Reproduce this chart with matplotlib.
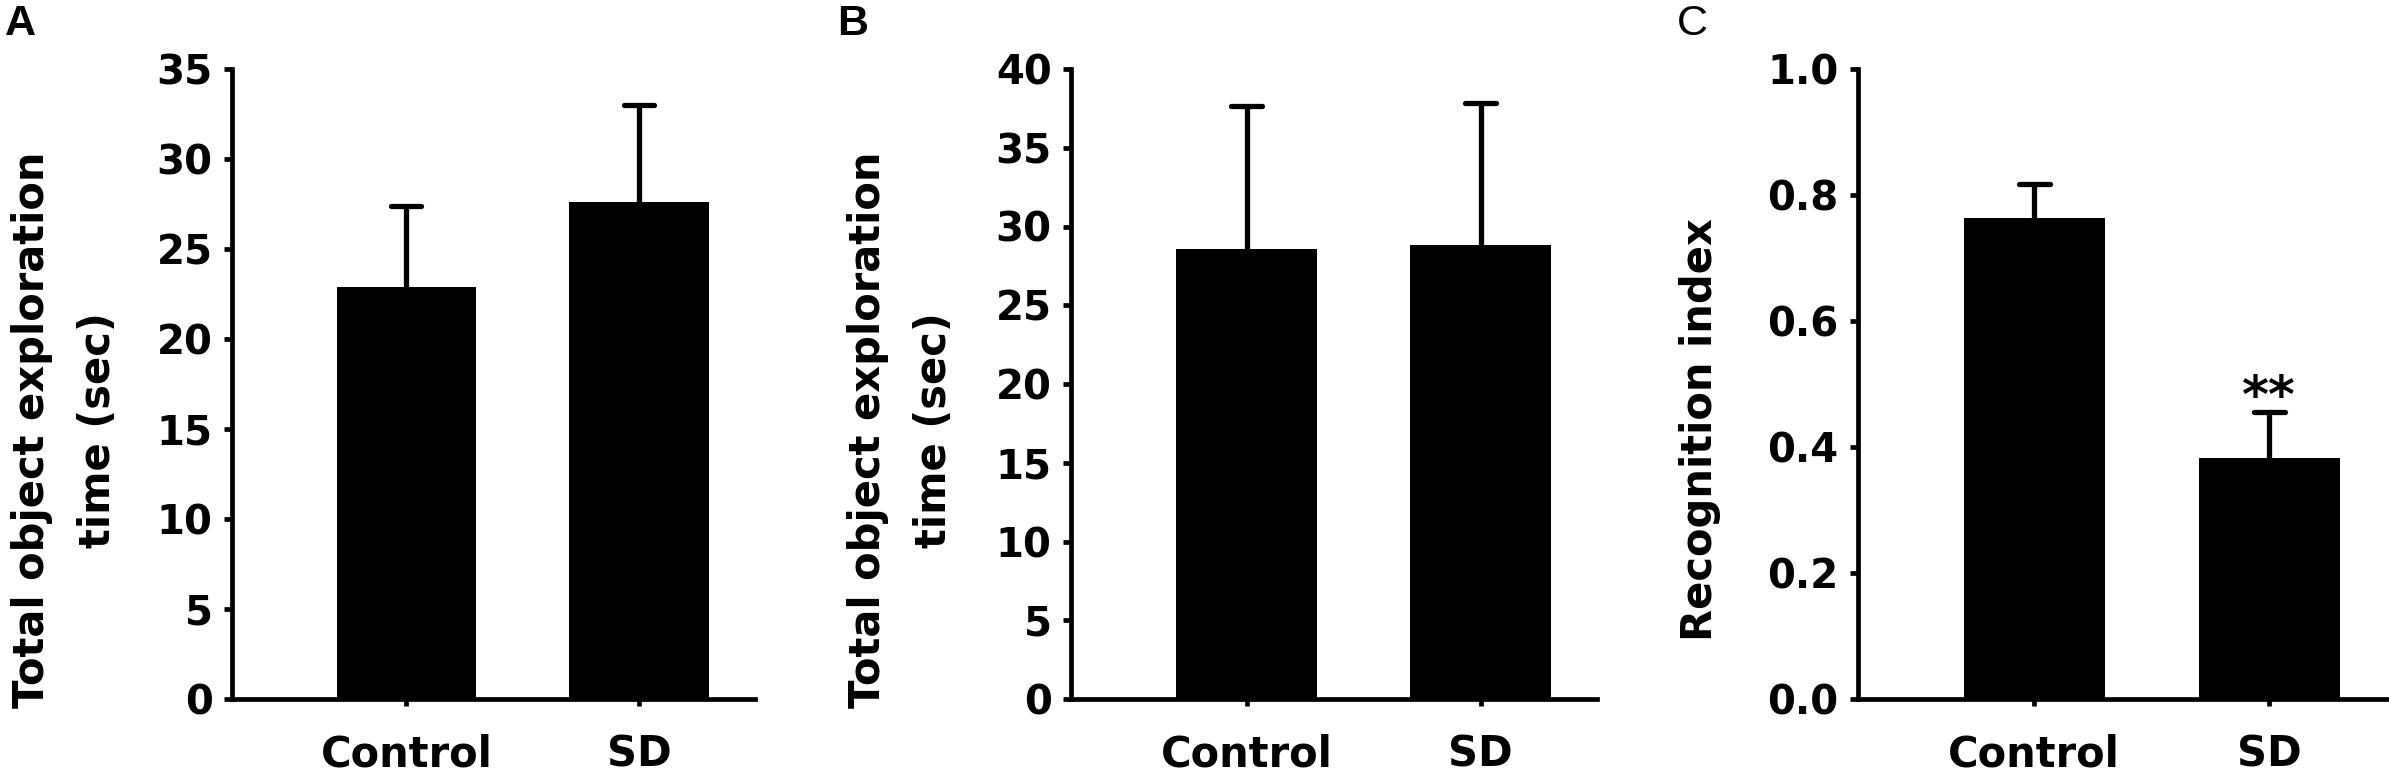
import numpy as np
import matplotlib.pyplot as plt

# datos
grupos = ['Control', 'SD']
tiempo_a = [22.9, 27.6]
error_a = [4.5, 5.4]
tiempo_b = [28.55, 28.8]
error_b = [9.1, 9.05]
indice_c = [0.763, 0.382]
error_c = [0.055, 0.074]

W, H = 2389, 776
plt.rcParams['font.family'] = ['DejaVu Sans']
plt.rcParams['font.weight'] = 'bold'

fig = plt.figure(figsize=(W / 100, H / 100), dpi=100)

def panel(izq, paso, valores, errores, ymax, paso_y, etiqueta_y, x_etiqueta,
          letra, x_letra, peso_letra, fmt):
    # posiciones en pixeles -> fraccion de figura
    ancho = 2.25 * paso
    ax = fig.add_axes([izq / W, (H - 699) / H, ancho / W, 630 / H])
    x = np.arange(len(grupos))
    valores = np.array(valores)
    errores = np.array(errores)
    ax.bar(x, valores, width=0.6, color='black', zorder=3)
    # barra de error solo hacia arriba
    ax.vlines(x, valores, valores + errores, color='black', linewidth=3.8, zorder=2)
    tapas = ax.hlines(valores + errores, x - 0.065, x + 0.065, color='black',
                      linewidth=3.8, zorder=2)
    tapas.set_capstyle('round')
    ax.set_xlim(-0.75, 1.5)
    ax.set_ylim(0, ymax)
    marcas = np.arange(0, ymax + paso_y / 2, paso_y)
    ax.set_yticks(marcas)
    ax.set_yticklabels([fmt.format(v) for v in marcas])
    ax.set_xticks(x)
    ax.set_xticklabels(grupos, fontsize=30, fontweight='bold')
    for s in ['top', 'right']:
        ax.spines[s].set_visible(False)
    for s in ['left', 'bottom']:
        ax.spines[s].set_linewidth(3.4)
    ax.tick_params(axis='y', length=6, width=3.4, labelsize=29, pad=8)
    ax.tick_params(axis='x', length=5, width=3.4, pad=20)
    for t in ax.get_yticklabels():
        t.set_fontweight('bold')
    fig.text(x_etiqueta / W, 1 - 430 / H, etiqueta_y, rotation=90, ha='center', va='center',
             fontsize=30, fontweight='bold', multialignment='center', linespacing=1.75)
    fig.text(x_letra / W, 1 - 4 / H, letra, ha='left', va='top', fontsize=31,
             fontweight=peso_letra, family='Liberation Sans')
    return ax

panel(232, 232.5, tiempo_a, error_a, 35, 5,
      'Total object exploration\ntime (sec)', 65, 'A', 5, 'bold', '{:.0f}')
panel(1071, 234, tiempo_b, error_b, 40, 5,
      'Total object exploration\ntime (sec)', 901, 'B', 837, 'bold', '{:.0f}')
ax_c = panel(1858, 235, indice_c, error_c, 1.0, 0.2,
             'Recognition index', 1700, 'C', 1677, 'normal', '{:.1f}')
ax_c.text(1, indice_c[1] + error_c[1], '**', ha='center', va='baseline',
          fontsize=37, fontweight='bold')

fig.savefig('out.png', dpi=100)
